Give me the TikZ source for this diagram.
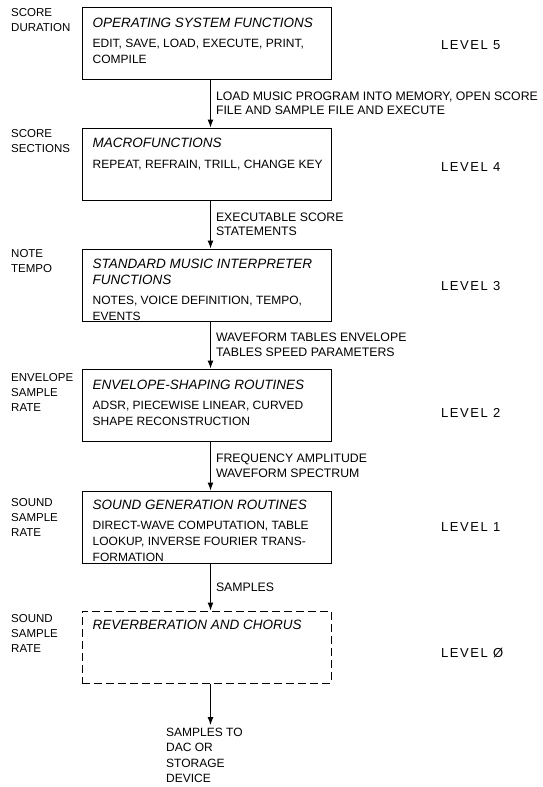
\documentclass[tikz,border=0pt]{standalone}
\usepackage{fontspec}
\setmainfont{Liberation Sans}
\newfontfamily\levelfont[LetterSpace=12]{Liberation Sans}
\usetikzlibrary{arrows.meta}

\tikzset{
  box/.style={draw, line width=1pt, minimum width=249pt, minimum height=72pt, inner sep=0pt},
  dashbox/.style={box, dash pattern=on 8pt off 4pt},
  boxtext/.style={anchor=north west, align=left, inner sep=0pt, font=\fontsize{12}{16}\selectfont},
  rate/.style={anchor=north west, align=left, inner sep=0pt, font=\fontsize{11.5}{15}\selectfont},
  flowlbl/.style={right=5pt, align=left, inner sep=0pt, font=\fontsize{12.3}{14.5}\selectfont},
  levellbl/.style={anchor=west, inner sep=0pt, font=\levelfont\fontsize{13}{15}\selectfont},
  flow/.style={line width=1pt, -{Latex[length=8pt,width=6pt]}},
}
\newcommand{\boxtitle}[1]{{\fontsize{13.5}{16}\selectfont\itshape #1}}

\begin{document}
\begin{tikzpicture}[x=1pt,y=1pt]
  \useasboundingbox (0,0) rectangle (542,-787);
  % level boxes
  \node[box] (os) at (206.5,-43) {};
  \node[box] (macro) at (206.5,-164) {};
  \node[box] (interp) at (206.5,-285) {};
  \node[box] (env) at (206.5,-405) {};
  \node[box] (sound) at (206.5,-527) {};
  \node[dashbox] (reverb) at (206.5,-647) {};
  % box contents
  \node[boxtext] (ostxt) at ([shift={(11pt,-11pt)}]os.north west)
    {\boxtitle{OPERATING SYSTEM FUNCTIONS}\\[4pt]EDIT, SAVE, LOAD, EXECUTE, PRINT,\\COMPILE};
  \node[boxtext] (macrotxt) at ([shift={(11pt,-10pt)}]macro.north west)
    {\boxtitle{MACROFUNCTIONS}\\[5pt]REPEAT, REFRAIN, TRILL, CHANGE KEY};
  \node[boxtext] (interptxt) at ([shift={(11pt,-10pt)}]interp.north west)
    {\boxtitle{STANDARD MUSIC INTERPRETER}\\\boxtitle{FUNCTIONS}\\[4pt]NOTES, VOICE DEFINITION, TEMPO,\\EVENTS};
  \node[boxtext] (envtxt) at ([shift={(11pt,-11pt)}]env.north west)
    {\boxtitle{ENVELOPE-SHAPING ROUTINES}\\[4pt]ADSR, PIECEWISE LINEAR, CURVED\\SHAPE RECONSTRUCTION};
  \node[boxtext] (soundtxt) at ([shift={(11pt,-9pt)}]sound.north west)
    {\boxtitle{SOUND GENERATION ROUTINES}\\[4pt]DIRECT-WAVE COMPUTATION, TABLE\\LOOKUP, INVERSE FOURIER TRANS-\\FORMATION};
  \node[boxtext] (reverbtxt) at ([shift={(11pt,-9pt)}]reverb.north west)
    {\boxtitle{REVERBERATION AND CHORUS}};
  % rates on the left
  \node[rate] (rate5) at (11,-8) {SCORE\\DURATION};
  \node[rate] (rate4) at (11,-129) {SCORE\\SECTIONS};
  \node[rate] (rate3) at (11,-249) {NOTE\\TEMPO};
  \node[rate] (rate2) at (11,-373) {ENVELOPE\\SAMPLE\\RATE};
  \node[rate] (rate1) at (11,-498) {SOUND\\SAMPLE\\RATE};
  \node[rate] (rate0) at (11,-614) {SOUND\\SAMPLE\\RATE};
  % level numbers
  \node[levellbl] (lv5) at (441,-45) {LEVEL 5};
  \node[levellbl] (lv4) at (441,-167) {LEVEL 4};
  \node[levellbl] (lv3) at (441,-286) {LEVEL 3};
  \node[levellbl] (lv2) at (441,-413) {LEVEL 2};
  \node[levellbl] (lv1) at (441,-527) {LEVEL 1};
  \node[levellbl] (lv0) at (441,-653) {LEVEL Ø};
  % data handed down between levels
  \draw[flow] ([xshift=4pt]os.south) -- ([xshift=4pt]macro.north)
    node[flowlbl, midway] (d54) {LOAD MUSIC PROGRAM INTO MEMORY, OPEN SCORE\\FILE AND SAMPLE FILE AND EXECUTE};
  \draw[flow] ([xshift=4pt]macro.south) -- ([xshift=4pt]interp.north)
    node[flowlbl, midway] (d43) {EXECUTABLE SCORE\\STATEMENTS};
  \draw[flow] ([xshift=4pt]interp.south) -- ([xshift=4pt]env.north)
    node[flowlbl, midway] (d32) {WAVEFORM TABLES ENVELOPE\\TABLES SPEED PARAMETERS};
  \draw[flow] ([xshift=4pt]env.south) -- ([xshift=4pt]sound.north)
    node[flowlbl, midway] (d21) {FREQUENCY AMPLITUDE\\WAVEFORM SPECTRUM};
  \draw[flow] ([xshift=4pt]sound.south) -- ([xshift=4pt]reverb.north)
    node[flowlbl, midway] (d10) {SAMPLES};
  % output
  \node[rate, font=\fontsize{12}{15.3}\selectfont] (out) at (166,-728) {SAMPLES TO\\DAC OR\\STORAGE\\DEVICE};
  \coordinate (outtop) at ([xshift=4pt]reverb.south |- out.north);
  \draw[flow] ([xshift=4pt]reverb.south) -- ([yshift=3pt]outtop);
\end{tikzpicture}
\end{document}
